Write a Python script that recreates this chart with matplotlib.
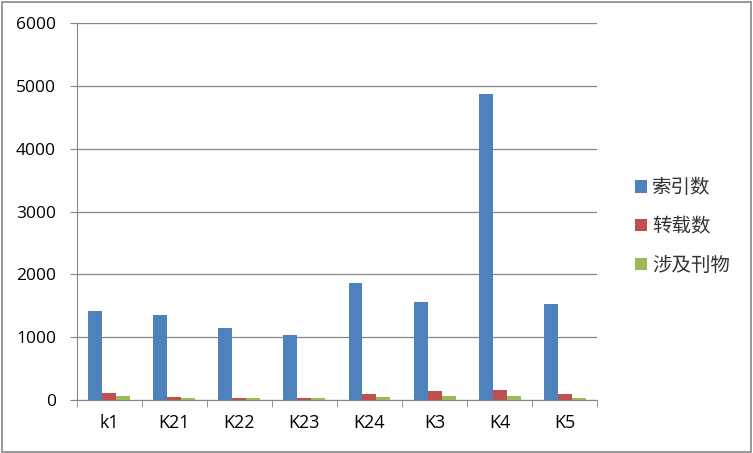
import matplotlib.pyplot as plt
import numpy as np
from matplotlib.patches import Rectangle

plt.rcParams['font.family'] = ['Open Sans', 'Noto Sans CJK SC', 'DejaVu Sans']

categories = ["k1", "K21", "K22", "K23", "K24", "K3", "K4", "K5"]
index_counts = [1410, 1350, 1150, 1035, 1860, 1560, 4870, 1530]
reprint_counts = [110, 50, 35, 35, 100, 145, 160, 100]
journal_counts = [65, 35, 35, 35, 50, 65, 65, 35]
series_names = ["索引数", "转载数", "涉及刊物"]
colors = ["#4F81BD", "#C0504D", "#9BBB59"]

fig = plt.figure(figsize=(7.53, 4.53), dpi=100)
ax = fig.add_axes([0.102, 0.117, 0.691, 0.832])

x = np.arange(len(categories))
w = 0.215
for i, (vals, name) in enumerate(zip([index_counts, reprint_counts, journal_counts], series_names)):
    ax.bar(x + (i - 1) * w, vals, w, color=colors[i], label=name, zorder=3)

ax.set_xlim(-0.5, len(categories) - 0.5)
ax.set_ylim(0, 6000)
ax.set_yticks(range(0, 6001, 1000))
ax.yaxis.grid(True, color="#868686", linewidth=0.9, zorder=0)
ax.set_xticks(x)
ax.set_xticklabels(categories, fontsize=13)
ax.set_xticks(np.arange(-0.5, len(categories)), minor=True)
ax.tick_params(axis='x', which='major', length=0, pad=10)
ax.tick_params(axis='x', which='minor', length=5, color="#868686")
ax.tick_params(axis='y', length=5, color="#868686", labelsize=12.5, pad=10)
for s in ['top', 'right']:
    ax.spines[s].set_visible(False)
for s in ['left', 'bottom']:
    ax.spines[s].set_color("#868686")

handles, labels = ax.get_legend_handles_labels()
leg = fig.legend(handles, labels, loc='center left', bbox_to_anchor=(0.82, 0.5),
                 frameon=False, prop={'family': ['Noto Sans CJK SC', 'DejaVu Sans'], 'size': 14},
                 handlelength=0.62, handleheight=0.62, labelspacing=0.92, handletextpad=0.25)
for t in leg.get_texts():
    t.set_color("#333333")

fig.patches.append(Rectangle((0.002, 0.003), 0.995, 0.993, transform=fig.transFigure,
                             fill=False, edgecolor="#868686", linewidth=1.2))

fig.savefig("out.png", dpi=100)
